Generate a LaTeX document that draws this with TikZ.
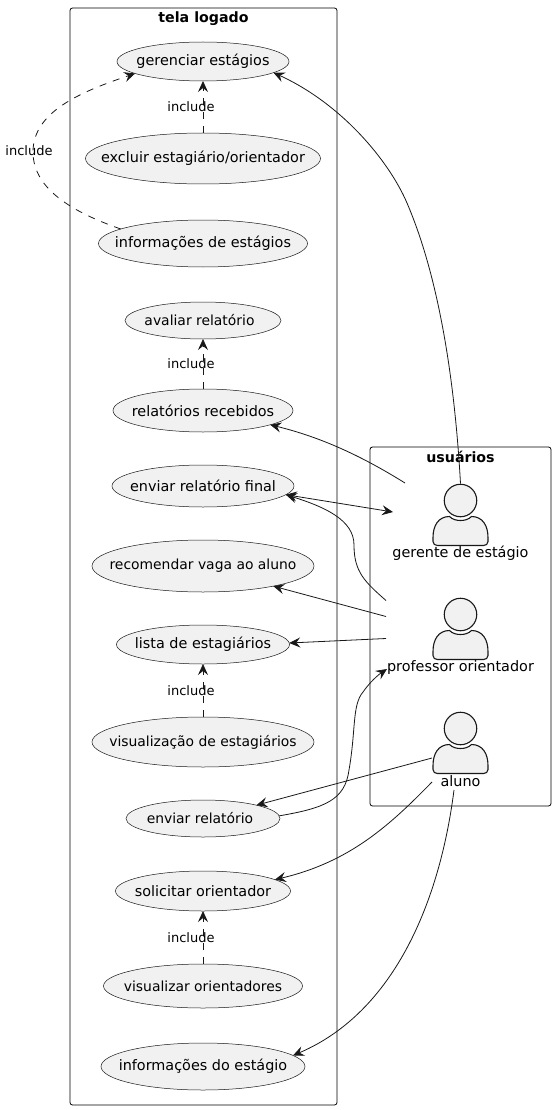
\documentclass[tikz,border=0pt]{standalone}
\usepackage{fontspec}
\setmainfont{DejaVu Sans}
\usepackage{tikz}
\usetikzlibrary{positioning,arrows.meta,shapes.geometric}
\definecolor{lineInk}{HTML}{181818}
\definecolor{caseFill}{HTML}{F1F1F1}
\newcommand{\casetext}[2][0pt]{\makebox[0pt]{\hspace{#1}#2}}
\tikzset{actorfig/.pic={
  \node[draw=lineInk, line width=1.1pt, fill=caseFill, circle, minimum size=32.5pt, inner sep=0pt] (-head) at (0,0) {};
  \draw[draw=lineInk, line width=1.1pt, fill=caseFill] (-27.5,37) .. controls (-27.5,25) and (-22,16) .. (-11,16)
    .. controls (-8,19) and (-4,20) .. (0,20) .. controls (4,20) and (8,19) .. (11,16)
    .. controls (22,16) and (27.5,25) .. (27.5,37) -- (27.5,41) .. controls (27.5,43.5) and (25.5,45) .. (23,45)
    -- (-23,45) .. controls (-25.5,45) and (-27.5,43.5) .. (-27.5,41) -- cycle;
  \node[inner sep=0pt] (-label) at (0,53) {#1};
}}
\begin{document}
\begin{tikzpicture}[x=1pt, y=-1pt, node distance=33pt,
  every node/.style={font=\fontsize{14.4}{16}\selectfont, text=black},
  pkg/.style={draw=black, line width=0.8pt, rounded corners=2.5pt, inner sep=0pt},
  pkgtitle/.style={font=\bfseries\fontsize{14.2}{16}\selectfont, inner sep=0pt},
  usecase/.style={ellipse, draw=lineInk, line width=0.5pt, fill=caseFill, inner sep=0pt, outer sep=0pt},
  casenarrow/.style={font=\fontsize{13.9}{16}\selectfont},
  arr/.style={-{Stealth[length=11pt, width=10pt, inset=4pt]}, draw=lineInk, line width=0.8pt},
  dep/.style={arr, dash pattern=on 7pt off 7pt},
  inc/.style={font=\fontsize{13}{15}\selectfont, inner sep=0pt}]
\useasboundingbox (0,0) rectangle (556,1110);
\node[pkg, minimum width=267pt, minimum height=1097pt] (tela) at (203.5,556.5) {};
\node[pkgtitle, below=4pt of tela.north] (telatitle) {tela logado};
\node[pkg, minimum width=181pt, minimum height=359pt] (users) at (460.5,626.5) {};
\node[pkgtitle, below=4pt of users.north] (userstitle) {usuários};
\node[usecase, minimum width=172pt, minimum height=39pt] (gerenciar) at (203,61.5) {\casetext{gerenciar estágios}};
\node[usecase, minimum width=235pt, minimum height=51pt, below=52pt of gerenciar] (excluir) {\casetext{excluir estagiário/orientador}};
\node[usecase, minimum width=209pt, minimum height=47pt, below=36pt of excluir] (infos) {\casetext{informações de estágios}};
\node[usecase, casenarrow, minimum width=156pt, minimum height=37pt, below=35pt of infos] (avaliar) {\casetext[-7pt]{avaliar relatório}};
\node[usecase, minimum width=180pt, minimum height=43pt, below=50pt of avaliar] (recebidos) {\casetext{relatórios recebidos}};
\node[usecase, minimum width=182pt, minimum height=42pt, below=of recebidos] (final) {\casetext{enviar relatório final}};
\node[usecase, casenarrow, minimum width=222pt, minimum height=52pt, below=of final] (recomendar) {\casetext{recomendar vaga ao aluno}};
\node[usecase, minimum width=173pt, minimum height=39pt, below=of recomendar] (lista) {\casetext{lista de estagiários}};
\node[usecase, casenarrow, minimum width=222pt, minimum height=50pt, below=53pt of lista] (visualiza) {\casetext{visualização de estagiários}};
\node[usecase, casenarrow, minimum width=154pt, minimum height=37pt, below=of visualiza] (enviar) {\casetext[-6pt]{enviar relatório}};
\node[usecase, minimum width=175pt, minimum height=40pt, below=34pt of enviar] (solicitar) {\casetext{solicitar orientador}};
\node[usecase, casenarrow, minimum width=199pt, minimum height=44pt, below=53pt of solicitar] (orientadores) {\casetext{visualizar orientadores}};
\node[usecase, minimum width=204pt, minimum height=47pt, below=35pt of orientadores] (infoest) {\casetext{informações do estágio}};
\pic (gerente) at (460.5,500.5) {actorfig={gerente de estágio}};
\pic (prof) at (460.5,614.5) {actorfig={professor orientador}};
\pic (aluno) at (460.5,728.5) {actorfig={aluno}};
\coordinate (gerenteNW) at (405,483);
\coordinate (gerenteW) at (393,512);
\coordinate (profNW) at (386,600.5);
\coordinate (profW) at (386,616.5);
\coordinate (profSW) at (386,638.5);
\coordinate (profIn) at (387,669);
\coordinate (alunoW) at (432,758);
\coordinate (alunoSW) at (432,782);
\coordinate (alunoS) at (454,790);
\draw[dep] (excluir) -- node[inc, xshift=-12pt] (incA) {include} (gerenciar);
\draw[dep] (recebidos) -- node[inc, xshift=-12pt] (incB) {include} (avaliar);
\draw[dep] (visualiza) -- node[inc, xshift=-12pt] (incC) {include} (lista);
\draw[dep] (orientadores) -- node[inc, xshift=-12pt] (incD) {include} (solicitar);
\draw[dep] (infos.170) .. controls (75,213) and (33,190) .. (33,152) .. controls (33,112) and (80,92) .. (gerenciar.190);
\node[inc] (incE) at (29,151) {include};
\draw[arr] (gerente-head.north) .. controls (455,385) and (440,280) .. (407,203) .. controls (389,161) and (342,104) .. (gerenciar.-9.5);
\draw[arr] (gerenteNW) .. controls (360,455) and (320,437) .. (recebidos.-12);
\draw[arr, {Stealth[length=11pt, width=10pt, inset=4pt]}-{Stealth[length=11pt, width=10pt, inset=4pt]}] (final.-6.5) -- (gerenteW);
\draw[arr] (profNW) .. controls (365,582) and (354,572) .. (354,545) .. controls (354,520) and (325,507) .. (final.-6.5);
\draw[arr] (profW) -- (recomendar.-16);
\draw[arr] (profSW) -- (lista.1.5);
\draw[arr] (enviar.2) .. controls (325,808) and (345,800) .. (349,770) .. controls (356,730) and (352,705) .. (363,692) .. controls (370,682) and (378,675) .. (profIn);
\draw[arr] (alunoW) -- (enviar.14);
\draw[arr] (alunoSW) .. controls (390,825) and (350,862) .. (solicitar.9.6);
\draw[arr] (alunoS) .. controls (440,900) and (395,1012) .. (infoest.7.4);
\end{tikzpicture}
\end{document}
